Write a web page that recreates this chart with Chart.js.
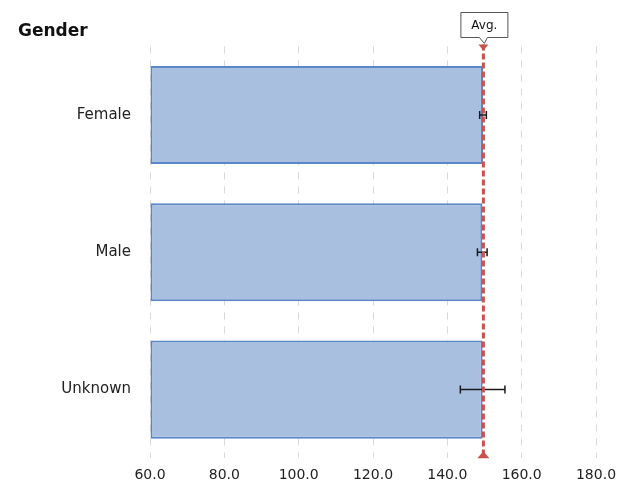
<!DOCTYPE html>
<html>
<head>
<meta charset="utf-8">
<script src="https://cdn.jsdelivr.net/npm/chart.js@4/dist/chart.umd.min.js"></script>
<style>
  html, body { margin: 0; padding: 0; background: #fff; }
  #wrap { width: 630px; height: 493px; }
</style>
</head>
<body>
<div id="wrap"><canvas id="c" width="630" height="493"></canvas></div>
<script>
// Gender breakdown: mean score per group with error margins and overall average
const categories = ['Female', 'Male', 'Unknown'];
const means = [149.6, 149.4, 149.5];
const errors = [0.9, 1.3, 6.0];
const average = 149.7;
const xTicks = [60, 80, 100, 120, 140, 160, 180];

const FONT = '"DejaVu Sans", Verdana, sans-serif';

const overlay = {
  id: 'overlay',
  afterDatasetsDraw(chart) {
    const { ctx, chartArea } = chart;
    const x = chart.scales.x;
    const meta = chart.getDatasetMeta(0);

    // error bars
    ctx.save();
    ctx.strokeStyle = '#1a1a1a';
    ctx.lineWidth = 1.5;
    meta.data.forEach((bar, i) => {
      const y = bar.y;
      const x0 = x.getPixelForValue(means[i] - errors[i]);
      const x1 = x.getPixelForValue(means[i] + errors[i]);
      ctx.beginPath();
      ctx.moveTo(x0, y); ctx.lineTo(x1, y);
      ctx.moveTo(x0, y - 4); ctx.lineTo(x0, y + 4);
      ctx.moveTo(x1, y - 4); ctx.lineTo(x1, y + 4);
      ctx.stroke();
    });
    ctx.restore();

    // average line
    const ax = x.getPixelForValue(average);
    const top = chartArea.top - 2;
    const bottom = chartArea.bottom;
    ctx.save();
    ctx.strokeStyle = '#c9524e';
    ctx.lineWidth = 3;
    ctx.setLineDash([6, 3]);
    ctx.beginPath();
    ctx.moveTo(ax, top);
    ctx.lineTo(ax, bottom);
    ctx.stroke();
    ctx.setLineDash([]);
    ctx.fillStyle = '#c9524e';
    ctx.beginPath();
    ctx.moveTo(ax - 5, top); ctx.lineTo(ax + 5, top); ctx.lineTo(ax, top + 6);
    ctx.closePath(); ctx.fill();
    ctx.beginPath();
    ctx.moveTo(ax - 6, bottom); ctx.lineTo(ax + 6, bottom); ctx.lineTo(ax, bottom - 7);
    ctx.closePath(); ctx.fill();

    // callout label
    const bx = ax - 23, by = 12, bw = 47, bh = 25;
    ctx.fillStyle = '#fff';
    ctx.strokeStyle = '#555';
    ctx.lineWidth = 1;
    ctx.beginPath();
    ctx.moveTo(bx + 0.5, by + 0.5);
    ctx.lineTo(bx + bw + 0.5, by + 0.5);
    ctx.lineTo(bx + bw + 0.5, by + bh + 0.5);
    ctx.lineTo(ax + 4, by + bh + 0.5);
    ctx.lineTo(ax + 1, top - 1);
    ctx.lineTo(ax - 4, by + bh + 0.5);
    ctx.lineTo(bx + 0.5, by + bh + 0.5);
    ctx.closePath();
    ctx.fill(); ctx.stroke();
    ctx.fillStyle = '#111';
    ctx.font = '12px ' + FONT;
    ctx.textAlign = 'center';
    ctx.textBaseline = 'middle';
    ctx.fillText('Avg.', ax + 1, by + bh / 2 + 1);
    ctx.restore();
  }
};

new Chart(document.getElementById('c'), {
  type: 'bar',
  data: {
    labels: categories,
    datasets: [{
      data: means,
      base: xTicks[0],
      backgroundColor: '#a8bfdf',
      borderColor: '#5a87c8',
      borderWidth: 2,
      borderSkipped: false,
      clip: false,
      barPercentage: 0.715,
      categoryPercentage: 1.0
    }]
  },
  options: {
    indexAxis: 'y',
    responsive: false,
    animation: false,
    layout: { padding: { left: 18, right: 34, top: 0, bottom: 0 } },
    plugins: {
      legend: { display: false },
      tooltip: { enabled: false },
      title: {
        display: true,
        text: 'Gender',
        align: 'start',
        color: '#111',
        font: { family: FONT, size: 17, weight: 'bold' },
        padding: { top: 21, bottom: 5 }
      }
    },
    scales: {
      x: {
        type: 'linear',
        min: 60,
        max: 180,
        afterBuildTicks(scale) {
          scale.ticks = xTicks.map(v => ({ value: v }));
        },
        grid: {
          color: '#d9d9d9',
          lineWidth: 1,
          drawTicks: false
        },
        border: { display: false, dash: [7, 7] },
        ticks: {
          padding: 9,
          color: '#222',
          font: { family: FONT, size: 14 },
          callback: v => Number(v).toFixed(1)
        }
      },
      y: {
        grid: { display: false },
        border: { display: false },
        afterFit(scale) { scale.width = 132; },
        ticks: {
          padding: 11,
          color: '#222',
          font: { family: FONT, size: 15 }
        }
      }
    }
  },
  plugins: [overlay]
});
</script>
</body>
</html>
